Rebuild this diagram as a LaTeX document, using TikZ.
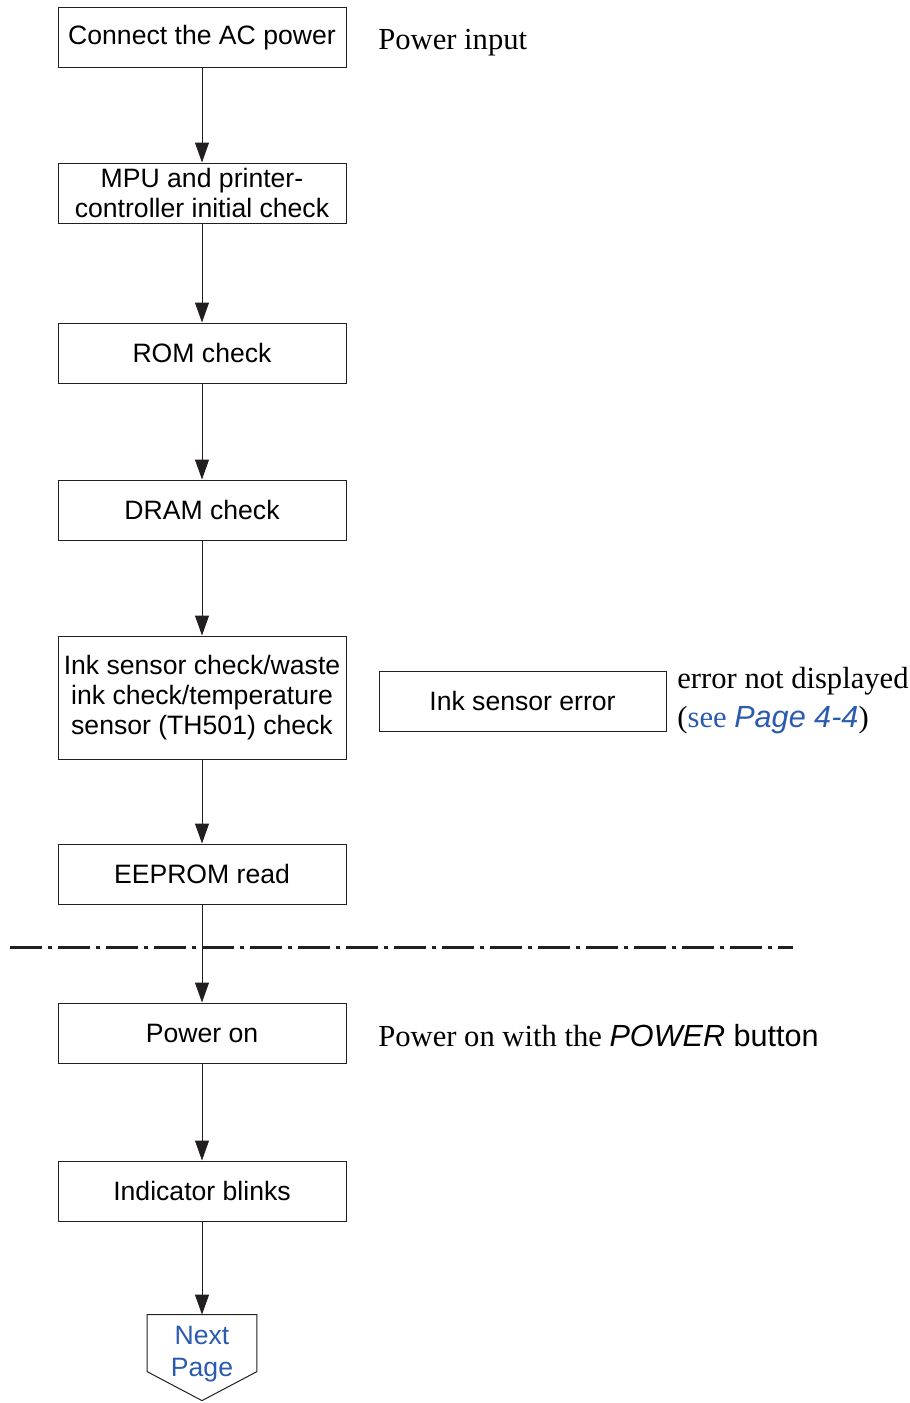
\documentclass[tikz,border=0pt]{standalone}
\usepackage{fontspec}
\setmainfont{Liberation Serif}
\setsansfont{Liberation Sans}
\usepackage{xcolor}
\usepackage{tikz}
\usetikzlibrary{arrows.meta, positioning, calc}
\definecolor{linkblue}{HTML}{2B5BAE}
\definecolor{boxdraw}{HTML}{231F20}
\tikzset{
  blk/.style={rectangle, draw=boxdraw, line width=0.5pt, align=center, font=\sffamily\fontsize{13.3pt}{15pt}\selectfont, inner sep=1pt, minimum width=144pt, minimum height=30pt},
  errblk/.style={blk, minimum width=143.5pt},
  tallblk/.style={blk, minimum height=61.5pt},
  nextblk/.style={rectangle, align=center, font=\sffamily\fontsize{13.3pt}{16pt}\selectfont, text=linkblue, inner sep=0pt, minimum width=54.5pt, minimum height=39pt},
  note/.style={anchor=west, align=left, inner sep=0pt, font=\fontsize{15.3pt}{19.5pt}\selectfont},
  arr/.style={-{Triangle[length=10pt, width=7pt]}, line width=0.5pt, draw=boxdraw},
  cutline/.style={line width=1.5pt, draw=boxdraw, dash pattern=on 16pt off 3pt on 2pt off 3pt},
}

\begin{document}
\begin{tikzpicture}[x=0.5pt, y=-0.5pt]
  \useasboundingbox (0,0) rectangle (910,1403);
  \node[blk] (acpower) at (202,37.5) {Connect the AC power};
  \node[blk] (mpucheck) at (202,193) {MPU and printer-\\controller initial check};
  \node[blk] (romcheck) at (202,353) {ROM check};
  \node[blk] (dramcheck) at (202,510) {DRAM check};
  \node[tallblk] (inkcheck) at (202,697.5) {Ink sensor check/waste\\ink check/temperature\\sensor (TH501) check};
  \node[blk] (eeprom) at (202,874) {EEPROM read};
  \node[blk] (poweron) at (202,1033) {Power on};
  \node[blk] (blinks) at (202,1191) {Indicator blinks};
  \node[nextblk] (nextpg) at (202,1354) {Next\\Page};
  \draw[line width=0.5pt, draw=boxdraw] (nextpg.north west) -- (nextpg.north east) -- ++(0,57)
    -- ($(nextpg.north)+(0,86)$) -- ($(nextpg.north west)+(0,57)$) -- cycle;

  \node[errblk] (inkerr) at (522.5,701) {Ink sensor error};
  \node[note] (inkerrnote) at (677,700.5) {error not displayed\\(\textcolor{linkblue}{see \textsf{\textit{Page 4-4}}})};
  \node[note] (powerinput) at (378,43) {Power input};
  \node[note] (poweronnote) at (378,1036) {Power on with the \textsf{\textit{POWER} button}};

  \coordinate (cutl) at (10,947);
  \coordinate (cutr) at (793,947);
  \draw[cutline] (cutl) -- (cutr);

  \draw[arr] (acpower) -- (mpucheck);
  \draw[arr] (mpucheck) -- (romcheck);
  \draw[arr] (romcheck) -- (dramcheck);
  \draw[arr] (dramcheck) -- (inkcheck);
  \draw[arr] (inkcheck) -- (eeprom);
  \draw[arr] (eeprom) -- (poweron);
  \draw[arr] (poweron) -- (blinks);
  \draw[arr] (blinks) -- (nextpg.north);
\end{tikzpicture}
\end{document}
